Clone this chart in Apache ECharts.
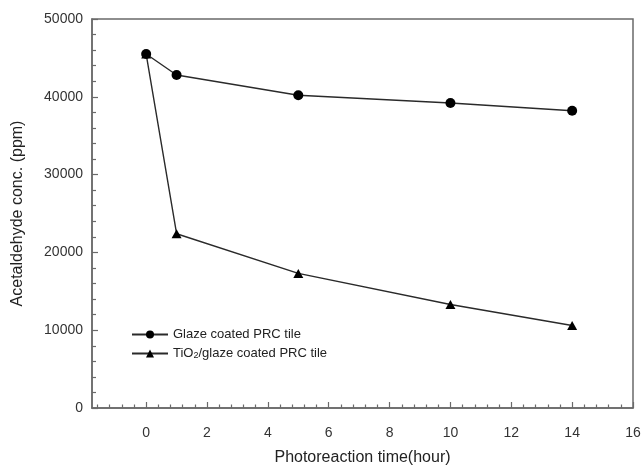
<!DOCTYPE html>
<html>
<head>
<meta charset="utf-8">
<script src="https://cdn.jsdelivr.net/npm/echarts@6/dist/echarts.min.js"></script>
<style>html,body{margin:0;padding:0;background:#fff}#c{width:643px;height:466px}</style>
</head>
<body>
<div id="c"></div>
<script>
const times = [0, 1, 5, 10, 14];
const glaze = [45500, 42800, 40200, 39200, 38200];
const tio2 = [45500, 22400, 17300, 13300, 10600];
const xTickLabels = [0, 2, 4, 6, 8, 10, 12, 14, 16];
const xMinorTicks = [-1.6,-1.2,-0.8,-0.4,0.4,0.8,1.2,1.6,2.4,2.8,3.2,3.6,4.4,4.8,5.2,5.6,6.4,6.8,7.2,7.6,8.4,8.8,9.2,9.6,10.4,10.8,11.2,11.6,12.4,12.8,13.2,13.6,14.4,14.8,15.2,15.6];
const seriesNames = ['Glaze coated PRC tile', 'TiO2/glaze coated PRC tile'];

const chart = echarts.init(document.getElementById('c'), null, {renderer: 'canvas'});
const font = 'Liberation Sans, Arial, sans-serif';
const axisColor = '#6a6a6a';
const xMin = -1.78, xMax = 16;
chart.setOption({
  animation: false,
  grid: {left: 92, right: 10, top: 19, bottom: 58, show: true, borderColor: axisColor, borderWidth: 1.5, containLabel: false, outerBoundsMode: 'none'},
  legend: {
    data: seriesNames,
    orient: 'vertical',
    left: 126, top: 323,
    itemWidth: 36, itemHeight: 10, itemGap: 6,
    textStyle: {fontFamily: font, fontSize: 13, color: '#222',
      rich: {a: {fontFamily: font, fontSize: 13, color: '#222', lineHeight: 14},
             s: {fontFamily: font, fontSize: 9, color: '#222', lineHeight: 6, verticalAlign: 'bottom'}}},
    formatter: function (n) {
      if (n.indexOf('TiO2') === 0) return '{a|TiO}{s|2}{a|/glaze coated PRC tile}';
      return '{a|' + n + '}';
    }
  },
  xAxis: [{
    type: 'value', min: xMin, max: xMax,
    name: 'Photoreaction time(hour)', nameLocation: 'middle', nameGap: 42,
    nameTextStyle: {fontFamily: font, fontSize: 16, color: '#222'},
    axisLine: {show: true, onZero: false, lineStyle: {color: axisColor, width: 1.5}},
    axisTick: {show: true, inside: true, length: 6, customValues: xTickLabels, lineStyle: {color: axisColor, width: 1.2}},
    axisLabel: {customValues: xTickLabels, fontFamily: font, fontSize: 14, color: '#333', margin: 18},
    splitLine: {show: false}
  }, {
    type: 'value', min: xMin, max: xMax, position: 'bottom',
    axisLine: {show: false, onZero: false},
    axisTick: {show: true, inside: true, length: 3.5, customValues: xMinorTicks, lineStyle: {color: axisColor, width: 1.2}},
    axisLabel: {show: false},
    splitLine: {show: false}
  }],
  yAxis: {
    type: 'value', min: 0, max: 50000, interval: 10000,
    name: 'Acetaldehyde conc. (ppm)', nameLocation: 'middle', nameGap: 66, nameRotate: 90,
    nameTextStyle: {fontFamily: font, fontSize: 16, color: '#222'},
    axisLine: {show: true, onZero: false, lineStyle: {color: axisColor, width: 1.5}},
    axisTick: {show: true, inside: true, length: 6, lineStyle: {color: axisColor, width: 1.2}},
    minorTick: {show: true, splitNumber: 5, length: 4, lineStyle: {color: axisColor, width: 1.2}},
    axisLabel: {fontFamily: font, fontSize: 14, color: '#333', margin: 9, formatter: v => String(v)},
    splitLine: {show: false}
  },
  series: [{
    name: seriesNames[0], type: 'line', xAxisIndex: 0,
    data: times.map((t, i) => [t, glaze[i]]),
    symbol: 'circle', symbolSize: 10,
    lineStyle: {color: '#2a2a2a', width: 1.4},
    itemStyle: {color: '#000'}
  }, {
    name: seriesNames[1], type: 'line', xAxisIndex: 0,
    data: times.map((t, i) => [t, tio2[i]]),
    symbol: 'triangle', symbolSize: [10, 9],
    lineStyle: {color: '#2a2a2a', width: 1.4},
    itemStyle: {color: '#000'}
  }]
});
</script>
</body>
</html>
